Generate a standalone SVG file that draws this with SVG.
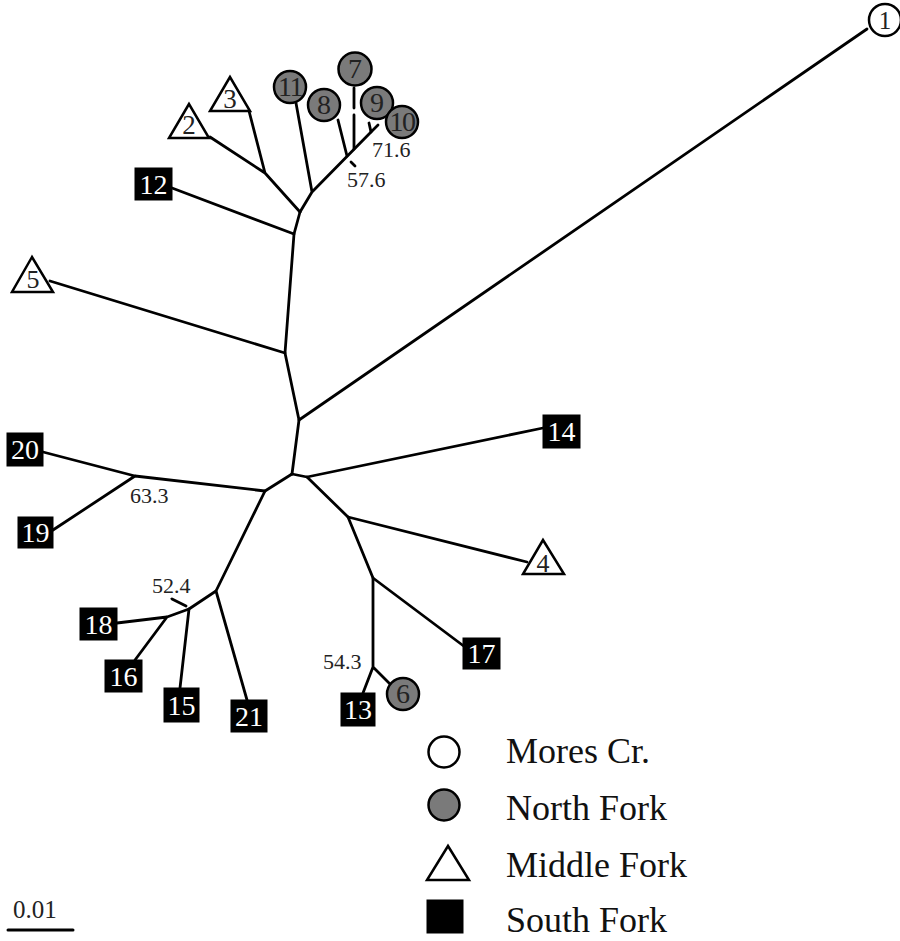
<svg xmlns="http://www.w3.org/2000/svg" width="900" height="941" viewBox="0 0 900 941" font-family="Liberation Serif, Times New Roman, serif">
<style>
.e{fill:none;stroke:#000;stroke-width:2.8;stroke-linecap:round;stroke-linejoin:round}
.c{fill:#7a7a7a;stroke:#000;stroke-width:2.5}
.o{fill:#fff;stroke:#000;stroke-width:2.5}
.s{fill:#000;stroke:#000;stroke-width:1}
.t{font-family:"Liberation Serif","Times New Roman",serif;font-size:28px;text-anchor:middle;fill:#222}
.w{font-family:"Liberation Serif","Times New Roman",serif;font-size:28px;text-anchor:middle;fill:#fff}
.b{font-family:"Liberation Serif","Times New Roman",serif;font-size:22px;fill:#222}
.l{font-family:"Liberation Serif","Times New Roman",serif;font-size:36px;fill:#111}
</style>
<rect width="900" height="941" fill="#fff"/>
<g id="connectors">
<path class="e" d="M299,420 L867,29"/>
<path class="e" d="M300,212 L294,234 L285,353 L299,420 L292,474"/>
<path class="e" d="M300,212 L265,173 L210,137 M265,173 L249,111"/>
<path class="e" d="M300,212 L312,192 L371,132 M312,192 L296,103"/>
<path class="e" d="M347,156 L338,120"/>
<path class="e" d="M354,149 L354,115 M354,108 L354,88"/>
<path class="e" d="M371,132 L369,123 M371,132 L378,125"/>
<path class="e" d="M294,234 L172,188"/>
<path class="e" d="M285,353 L50,281"/>
<path class="e" d="M292,474 L307,477 L543,428"/>
<path class="e" d="M307,477 L348,517 L527,562"/>
<path class="e" d="M348,517 L373,578 L465,647"/>
<path class="e" d="M373,578 L373,667 L363,693 M373,667 L391,685"/>
<path class="e" d="M292,474 L265,491 L135,476 L43,452 M135,476 L53,530"/>
<path class="e" d="M265,491 L216,591 L247,700"/>
<path class="e" d="M216,591 L189,609 L180,688"/>
<path class="e" d="M189,609 L167,617 L117,623 M167,617 L135,660"/>
<path class="e" d="M351,162 L355,166"/>
<path class="e" d="M172,599 L186,606"/>
<text class="b" x="372" y="157">71.6</text>
<text class="b" x="347" y="187">57.6</text>
<text class="b" x="130" y="503">63.3</text>
<text class="b" x="152" y="593">52.4</text>
<text class="b" x="323" y="669">54.3</text>
</g>
<g id="n1"><circle class="o" cx="885" cy="20" r="16"/><text class="t" x="885" y="29" style="font-size:25px">1</text></g>
<g id="n2"><polygon class="o" points="189,104 169,138 209,138"/><text class="t" x="189" y="134" style="font-size:27px">2</text></g>
<g id="n3"><polygon class="o" points="230,77 210,111 250,111"/><text class="t" x="230" y="108" style="font-size:27px">3</text></g>
<g id="n4"><polygon class="o" points="543,540 523,574 564,574"/><text class="t" x="543" y="572" style="font-size:26px">4</text></g>
<g id="n5"><polygon class="o" points="32,257 12,292 53,292"/><text class="t" x="33" y="288" style="font-size:26px">5</text></g>
<g id="n6"><circle class="c" cx="403" cy="694" r="16"/><text class="t" x="403" y="703">6</text></g>
<g id="n7"><circle class="c" cx="355" cy="69" r="16.5"/><text class="t" x="355" y="78">7</text></g>
<g id="n8"><circle class="c" cx="324" cy="105" r="16"/><text class="t" x="324" y="114">8</text></g>
<g id="n9"><circle class="c" cx="377" cy="103" r="16"/><text class="t" x="377" y="112">9</text></g>
<g id="n10"><circle class="c" cx="402" cy="122" r="16"/><text class="t" x="402" y="131" style="letter-spacing:-1.5px">10</text></g>
<g id="n11"><circle class="c" cx="290" cy="87" r="16"/><text class="t" x="290" y="96" style="letter-spacing:-1.5px">11</text></g>
<g id="n12"><rect class="s" x="135" y="168" width="37" height="32"/><text class="w" x="153.5" y="194">12</text></g>
<g id="n13"><rect class="s" x="341" y="693" width="34" height="33"/><text class="w" x="358" y="719">13</text></g>
<g id="n14"><rect class="s" x="543" y="415" width="37" height="33"/><text class="w" x="561.5" y="441">14</text></g>
<g id="n15"><rect class="s" x="164" y="688" width="35" height="34"/><text class="w" x="181.5" y="715">15</text></g>
<g id="n16"><rect class="s" x="105" y="660" width="37" height="32"/><text class="w" x="123.5" y="686">16</text></g>
<g id="n17"><rect class="s" x="463" y="638" width="37" height="31"/><text class="w" x="481.5" y="663">17</text></g>
<g id="n18"><rect class="s" x="80" y="608" width="37" height="32"/><text class="w" x="98.5" y="634">18</text></g>
<g id="n19"><rect class="s" x="18" y="517" width="35" height="31"/><text class="w" x="35.5" y="542">19</text></g>
<g id="n20"><rect class="s" x="7" y="433" width="36" height="33"/><text class="w" x="25" y="459">20</text></g>
<g id="n21"><rect class="s" x="231" y="700" width="36" height="32"/><text class="w" x="249" y="726">21</text></g>
<g id="legend">
<circle class="o" cx="444" cy="752" r="15.5"/>
<circle class="c" cx="444" cy="805" r="15.5"/>
<polygon class="o" points="448,846 427,880 469,880"/>
<rect class="s" x="427" y="900" width="36" height="33"/>
<text class="l" x="506" y="763">Mores Cr.</text>
<text class="l" x="506" y="820">North Fork</text>
<text class="l" x="506" y="877">Middle Fork</text>
<text class="l" x="506" y="932">South Fork</text>
</g>
<g id="scale">
<text class="b" x="13" y="918" style="font-size:25px">0.01</text>
<path class="e" d="M8,930 L73,930" style="stroke-width:3"/>
</g>
</svg>
